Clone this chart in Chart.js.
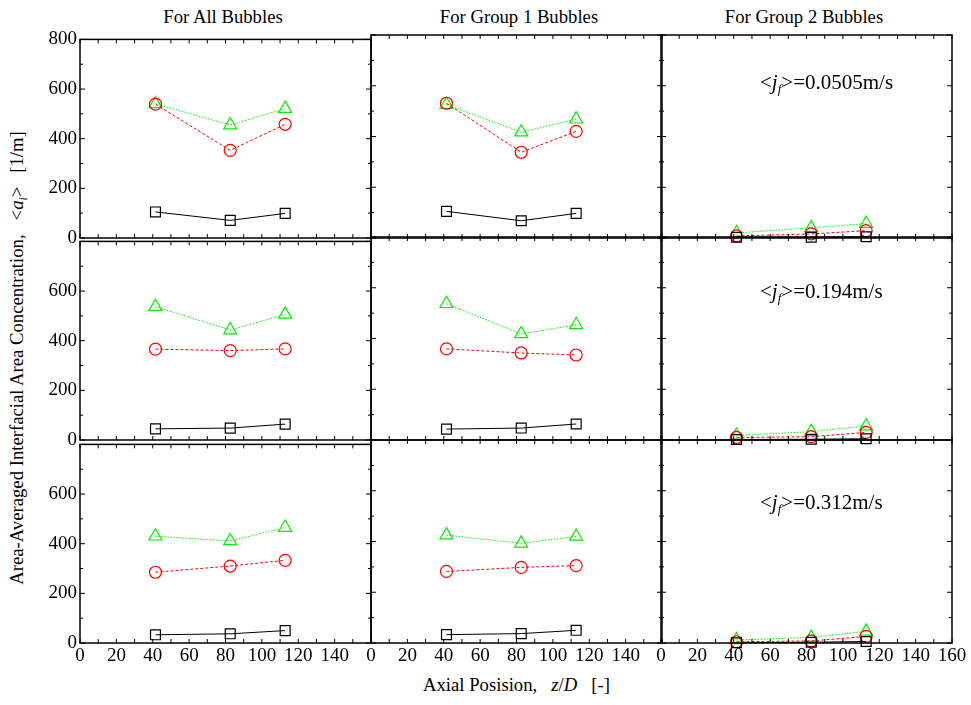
<!DOCTYPE html>
<html>
<head>
<meta charset="utf-8">
<script src="https://cdn.jsdelivr.net/npm/chart.js@4.4.1/dist/chart.umd.min.js"></script>
<style>
  body{margin:0;background:#fff;font-family:"Liberation Serif","Times New Roman",serif;color:#000;}
  #wrap{position:relative;width:971px;height:705px;overflow:hidden;}
  canvas{position:absolute;}
  .txt{position:absolute;white-space:nowrap;font-size:18.7px;line-height:1;}
  .ttl{position:absolute;white-space:nowrap;font-size:18.7px;line-height:1;transform:translateX(-50%);}
  .ann{position:absolute;white-space:nowrap;font-size:21px;line-height:1;}
  sub{font-size:0.62em;vertical-align:-0.3em;}
</style>
</head>
<body>
<div id="wrap">
  <div class="ttl" style="left:223px;top:8px">For All Bubbles</div>
  <div class="ttl" style="left:519px;top:8px">For Group 1 Bubbles</div>
  <div class="ttl" style="left:804px;top:8px">For Group 2 Bubbles</div>
  <div class="txt" style="left:19px;top:358px;transform:translate(-50%,-50%) rotate(-90deg)">Area-Averaged Interfacial Area Concentration,&nbsp;&nbsp;&nbsp;&lt;<i>a</i><sub><i>i</i></sub>&gt;&nbsp;&nbsp;&nbsp;[1/m]</div>
  <div class="txt" style="left:423px;top:676px">Axial Posision,&nbsp;&nbsp;&nbsp;<i>z</i>/<i>D</i>&nbsp;&nbsp;&nbsp;[-]</div>
</div>
<script>
// axial positions z/D
const zD = [41.5, 82.6, 112.8];
const jf = ['0.0505', '0.194', '0.312'];
const columns = ['For All Bubbles', 'For Group 1 Bubbles', 'For Group 2 Bubbles'];

// values per row (jf = 0.0505, 0.194, 0.312)
const squareAll   = [[105, 71, 99], [45, 48, 64], [33, 37, 50]];
const circleAll   = [[539, 353, 458], [366, 360, 367], [285, 310, 333]];
const triangleAll = [[540, 455, 521], [537, 443, 506], [430, 411, 465]];

const squareG1   = [[105, 68, 97], [43, 47, 63], [33, 37, 50]];
const circleG1   = [[531, 338, 420], [359, 343, 335], [282, 298, 305]];
const triangleG1 = [[526, 417, 468], [537, 418, 454], [425, 393, 420]];

const squareG2   = [[3, 3, 5], [2, 3, 5], [1, 3, 6]];
const circleG2   = [[8, 16, 29], [10, 13, 30], [5, 8, 26]];
const triangleG2 = [[20, 40, 57], [18, 33, 55], [12, 22, 46]];

const xTicks = [0, 20, 40, 60, 80, 100, 120, 140, 160];
const yTicks = [0, 200, 400, 600, 800];

const series = [
  [squareAll, circleAll, triangleAll],
  [squareG1, circleG1, triangleG1],
  [squareG2, circleG2, triangleG2]
];

// panel geometry
const colLeft = [80, 371, 661];
const rowTop = [34.5, 237.3, 440];
const panelW = 290.7, panelH = 202.7;
const padL = 60, padR = 20, padT = 10, padB = 32;
const annTop = [72, 281, 492];

Chart.defaults.font.family = '"Liberation Serif","Times New Roman",serif';
Chart.defaults.font.size = 19;
Chart.defaults.color = '#000';

// frame + inward ticks on all four sides
const frame = {
  id: 'frame',
  afterDraw(chart){
    const {ctx, chartArea: a, scales: {x, y}} = chart;
    ctx.save();
    ctx.strokeStyle = '#000';
    ctx.lineWidth = 1;
    ctx.beginPath();
    for(let v = 0; v <= 160; v += 10){
      const px = x.getPixelForValue(v);
      ctx.moveTo(px, a.bottom); ctx.lineTo(px, a.bottom - 4);
      ctx.moveTo(px, a.top); ctx.lineTo(px, a.top + 4);
    }
    for(let v = 0; v <= 800; v += 100){
      const py = y.getPixelForValue(v), len = v % 200 ? 3 : 5;
      ctx.moveTo(a.left, py); ctx.lineTo(a.left + len, py);
      ctx.moveTo(a.right, py); ctx.lineTo(a.right - len, py);
    }
    ctx.stroke();
    ctx.lineWidth = 1.5;
    ctx.strokeRect(a.left, a.top, a.right - a.left, a.bottom - a.top);
    ctx.restore();
  }
};

const wrap = document.getElementById('wrap');

for(let r = 0; r < 3; r++){
  for(let c = 0; c < 3; c++){
    const cv = document.createElement('canvas');
    const w = Math.round(panelW + padL + padR), h = Math.round(panelH + padT + padB);
    cv.width = w; cv.height = h;
    cv.style.left = (colLeft[c] - padL) + 'px';
    cv.style.top = (rowTop[r] - padT) + 'px';
    cv.style.width = w + 'px'; cv.style.height = h + 'px';
    wrap.appendChild(cv);

    const [sq, ci, tr] = series[c];
    new Chart(cv, {
      type: 'line',
      data: {
        datasets: [
          {label: 'square', data: zD.map((z, i) => ({x: z, y: sq[r][i]})),
           borderColor: '#000', borderWidth: 1, pointStyle: 'rect', pointRadius: 7,
           pointBorderColor: '#000', pointBorderWidth: 1.2, pointBackgroundColor: 'rgba(0,0,0,0)'},
          {label: 'circle', data: zD.map((z, i) => ({x: z, y: ci[r][i]})),
           borderColor: '#ff0000', borderWidth: 1, borderDash: [3, 2], pointStyle: 'circle', pointRadius: 6,
           pointBorderColor: '#ff0000', pointBorderWidth: 1.2, pointBackgroundColor: 'rgba(0,0,0,0)'},
          {label: 'triangle', data: zD.map((z, i) => ({x: z, y: tr[r][i]})),
           borderColor: '#00ee00', borderWidth: 1, borderDash: [1.5, 1.5], pointStyle: 'triangle', pointRadius: 7.5,
           pointBorderColor: '#00ee00', pointBorderWidth: 1.2, pointBackgroundColor: 'rgba(0,0,0,0)'}
        ]
      },
      options: {
        responsive: false,
        animation: false,
        devicePixelRatio: 1,
        clip: false,
        layout: {padding: {left: 0, right: padR, top: padT, bottom: 0}},
        plugins: {legend: {display: false}, tooltip: {enabled: false}},
        elements: {line: {tension: 0}},
        scales: {
          x: {
            type: 'linear', min: 0, max: 160,
            afterBuildTicks: s => { s.ticks = xTicks.map(v => ({value: v})); },
            afterFit: s => { s.height = padB; },
            grid: {display: false, drawTicks: false}, border: {display: false},
            ticks: {
              display: r === 2, autoSkip: false, maxRotation: 0, padding: 2,
              callback: v => (v === 160 && c < 2) ? '' : v
            }
          },
          y: {
            type: 'linear', min: 0, max: 800,
            afterBuildTicks: s => { s.ticks = yTicks.map(v => ({value: v})); },
            afterFit: s => { s.width = padL; },
            grid: {display: false, drawTicks: false}, border: {display: false},
            ticks: {
              display: c === 0, autoSkip: false, padding: 3,
              callback: v => (v === 800 && r > 0) ? '' : v
            }
          }
        }
      },
      plugins: [frame]
    });

    if(c === 2){
      const t = document.createElement('div');
      t.className = 'ann';
      t.style.left = '760px';
      t.style.top = annTop[r] + 'px';
      t.innerHTML = '&lt;<i>j</i><sub><i>f</i></sub>&gt;=' + jf[r] + 'm/s';
      wrap.appendChild(t);
    }
  }
}
</script>
</body>
</html>
